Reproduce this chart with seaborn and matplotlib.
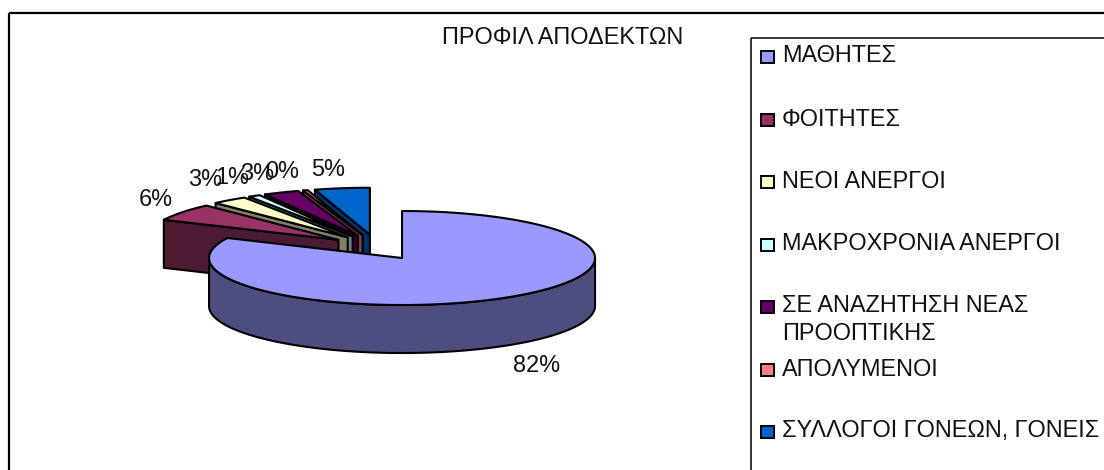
"""
Exploded 3D-style pie: ΠΡΟΦΙΛ ΑΠΟΔΕΚΤΩΝ
"""

import numpy as np
import matplotlib
matplotlib.use('Agg')
import matplotlib.pyplot as plt
from matplotlib.colors import to_rgb
from matplotlib.patches import Polygon, Rectangle
import seaborn as sns

CATEGORIES = ['ΜΑΘΗΤΕΣ', 'ΦΟΙΤΗΤΕΣ', 'ΝΕΟΙ ΑΝΕΡΓΟΙ', 'ΜΑΚΡΟΧΡΟΝΙΑ ΑΝΕΡΓΟΙ',
              'ΣΕ ΑΝΑΖΗΤΗΣΗ ΝΕΑΣ\nΠΡΟΟΠΤΙΚΗΣ', 'ΑΠΟΛΥΜΕΝΟΙ', 'ΣΥΛΛΟΓΟΙ ΓΟΝΕΩΝ, ΓΟΝΕΙΣ']
VALUES = [82, 6, 3, 1, 3, 0.4, 4.6]
PCT_LABELS = ['82%', '6%', '3%', '1%', '3%', '0%', '5%']
COLORS = ['#9999FF', '#993366', '#FFFFCC', '#CCFFFF', '#660066', '#FF8080', '#0066CC']

# pie geometry in pixels
CENTER = (376.7, 247.3)
RX, RY = 193.0, 47.0
DEPTH = 48.0
EXPLODE_X, EXPLODE_Y = 0.245, 0.27
LABEL_XY = [(156, 200), (205, 179), (232, 178), (257, 173), (282, 171), (328, 170)]
LABEL_XY.insert(0, (537, 365))
LEGEND_Y = [56, 119, 181, 244, 306, 369, 431]
FONT_SIZE = 16.9

sns.set_theme(style='white')
plt.rcParams['font.family'] = ['Liberation Sans', 'DejaVu Sans']

fig, ax = plt.subplots(figsize=(11.04, 4.7), dpi=100)
ax.set_position([0, 0, 1, 1])
ax.set_xlim(0, 1104)
ax.set_ylim(470, 0)
ax.axis('off')

# chart and legend frames run off the crop
ax.add_patch(Rectangle((8.5, 12.5), 1200, 600, fc='none', ec='black', lw=1.6))
ax.add_patch(Rectangle((751, 37.5), 600, 600, fc='none', ec='black', lw=1.1))


def ring(apex, a1, a2):
    """Points on the elliptical rim between two angles, clockwise from 12 o'clock."""
    t = np.radians(np.linspace(a1, a2, max(int(abs(a2 - a1)), 2) + 1))
    return np.column_stack([apex[0] + RX * np.sin(t), apex[1] - RY * np.cos(t)])


def draw_slice(start, end, color):
    mid = np.radians((start + end) / 2)
    apex = (CENTER[0] + EXPLODE_X * RX * np.sin(mid), CENTER[1] - EXPLODE_Y * RY * np.cos(mid))
    side = tuple(c * 0.5 for c in to_rgb(color))
    style = dict(ec='black', lw=1.5, joinstyle='round')
    down = np.array([0, DEPTH])
    rim = ring(apex, start, end)

    # cut face along the leading edge shows on the upper left slices
    if 180 <= start < 360:
        face = np.array([apex, rim[0], rim[0] + down, np.array(apex) + down])
        ax.add_patch(Polygon(face, fc=side, **style))

    # outer wall only for the front half of the rim
    a1, a2 = max(start, 90), min(end, 270)
    if a2 > a1:
        wall = ring(apex, a1, a2)
        ax.add_patch(Polygon(np.vstack([wall, wall[::-1] + down]), fc=side, **style))

    ax.add_patch(Polygon(np.vstack([[apex], rim]), fc=color, **style))


shares = np.array(VALUES) / sum(VALUES) * 360
ends = np.cumsum(shares)
starts = ends - shares
# far slices first, so nearer ones cover them
order = np.argsort(-np.cos(np.radians((starts + ends) / 2)))
for i in order:
    draw_slice(starts[i], ends[i], COLORS[i])

for (x, y), lab in zip(LABEL_XY, PCT_LABELS):
    ax.text(x, y, lab, fontsize=FONT_SIZE, ha='center', va='center', color='#111111')

ax.text(562.5, 37, 'ΠΡΟΦΙΛ ΑΠΟΔΕΚΤΩΝ', fontsize=FONT_SIZE, ha='center', va='center', color='#111111')

for y, name, color in zip(LEGEND_Y, CATEGORIES, COLORS):
    ax.add_patch(Rectangle((760.5, y - 5), 13, 12, fc=color, ec='black', lw=1.4))
    text_y = y + 13.5 if '\n' in name else y
    ax.text(782, text_y, name, fontsize=FONT_SIZE, ha='left', va='center',
            color='#111111', linespacing=1.24)

fig.savefig('out.png', dpi=100, facecolor='white')
